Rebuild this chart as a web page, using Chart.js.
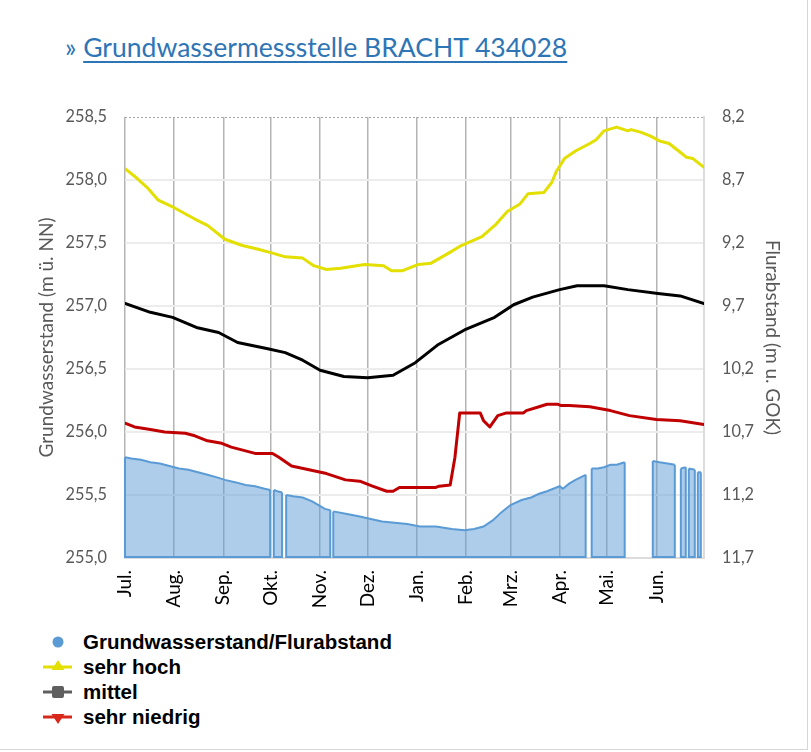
<!DOCTYPE html>
<html>
<head>
<meta charset="utf-8">
<script src="https://cdn.jsdelivr.net/npm/chart.js@4.4.1/dist/chart.umd.min.js"></script>
<style>
html,body{margin:0;padding:0;background:#fff;}
#wrap{position:relative;width:811px;height:752px;overflow:hidden;background:#fff;}
#frame{position:absolute;left:0;top:0;width:807px;height:749px;border-right:1px solid #d6d6d6;border-bottom:1px solid #d6d6d6;}
#title{position:absolute;left:65px;top:32px;font-family:Lato,"Open Sans",sans-serif;color:#2e75b6;white-space:nowrap;line-height:30px;}
#title .lnk{text-decoration:underline;text-decoration-thickness:2px;text-underline-offset:4px;}
#c{position:absolute;left:0;top:0;}
.row{position:absolute;left:83px;font-family:Arial,"Liberation Sans",sans-serif;font-weight:bold;color:#000;white-space:nowrap;line-height:25px;}
.ico{position:absolute;left:40px;}
</style>
</head>
<body>
<div id="wrap">
  <div id="frame"></div>
  <div id="title">» <span class="lnk" id="titleText">Grundwassermessstelle BRACHT 434028</span></div>
  <canvas id="c" width="811" height="625"></canvas>
  <div id="legend"></div>
</div>
<script>
// ---------- data ----------
const monthLabels = ['Jul.','Aug.','Sep.','Okt.','Nov.','Dez.','Jan.','Feb.','Mrz.','Apr.','Mai.','Jun.'];
const monthStartDays = [0,31,62,92,123,153,184,215,243,274,304,335];
const standTicks = [255.0,255.5,256.0,256.5,257.0,257.5,258.0,258.5];
const flurTicks = [8.2,8.7,9.2,9.7,10.2,10.7,11.2,11.7];

const hochDays   = [0,6,14,21,31,44,52,63,74,84,93,101,112,119,127,136,151,163,168,175,185,193,204,212,225,234,241,249,254,264,269,272,277,284,293,297,302,310,317,319,325,331,337,343,350,354,358,365];
const hochValues = [258.09,258.03,257.94,257.84,257.78,257.69,257.64,257.53,257.48,257.45,257.42,257.39,257.38,257.32,257.29,257.30,257.33,257.32,257.28,257.28,257.33,257.34,257.42,257.48,257.55,257.65,257.75,257.81,257.89,257.90,257.98,258.07,258.17,258.23,258.29,258.32,258.39,258.42,258.39,258.40,258.38,258.35,258.31,258.29,258.22,258.18,258.17,258.10];

const mittelDays   = [0,16,30,45,59,71,90,101,112,123,138,153,169,183,197,214,233,245,257,274,285,302,317,336,350,365];
const mittelValues = [257.02,256.95,256.91,256.83,256.79,256.71,256.66,256.63,256.57,256.49,256.44,256.43,256.45,256.55,256.69,256.81,256.91,257.01,257.07,257.13,257.16,257.16,257.13,257.10,257.08,257.02];

const niedrigDays   = [0,6,16,25,38,44,52,61,67,76,82,93,97,105,116,127,139,148,156,165,169,173,186,196,198,205,208,211,224,226,230,235,240,251,253,261,266,273,275,280,293,306,318,335,350,365];
const niedrigValues = [256.07,256.04,256.02,256.00,255.99,255.97,255.93,255.91,255.88,255.85,255.83,255.83,255.80,255.73,255.70,255.67,255.62,255.61,255.57,255.53,255.53,255.56,255.56,255.56,255.57,255.58,255.80,256.15,256.15,256.09,256.04,256.13,256.15,256.15,256.17,256.20,256.22,256.22,256.21,256.21,256.20,256.17,256.13,256.10,256.09,256.06];

// measured groundwater level (null = no data)
const gwDays = [0,4,10,16,22,28,34,40,46,52,58,63,70,76,82,88,91.5, 92.5,
  93.8,96,99, 100.3,
  101.6,106,112,118,122,126,129.4, 130.3,
  131.3,140,148,155,162,170,178,186,196,206,214,220,226,232,237,243,250,256,261,266,270,274,276,280,284,290.4, 292,
  294.2,298,302,306,310,315, 324,
  332.7,337,342,346.6, 348.5,
  350.4,353.5, 354.5,
  355.4,359.2, 360,
  361.1,363];
const gwValues = [255.80,255.79,255.78,255.76,255.75,255.73,255.71,255.70,255.68,255.66,255.64,255.62,255.60,255.58,255.57,255.55,255.54, null,
  255.54,255.53,255.52, null,
  255.50,255.49,255.48,255.45,255.42,255.39,255.38, null,
  255.37,255.35,255.33,255.31,255.29,255.28,255.27,255.25,255.25,255.23,255.22,255.23,255.25,255.30,255.36,255.42,255.46,255.48,255.51,255.53,255.55,255.57,255.55,255.59,255.62,255.66, null,
  255.71,255.71,255.72,255.74,255.74,255.76, null,
  255.77,255.76,255.75,255.74, null,
  255.71,255.72, null,
  255.71,255.70, null,
  255.68,255.68];

// ---------- fonts fitted to measured text widths ----------
const mctx = document.createElement('canvas').getContext('2d');
function fit(text, weight, family, target){ mctx.font = weight + ' 100px ' + family; return 100*target/mctx.measureText(text).width; }
const LATO = 'Lato';
const titleSize = fit('Grundwassermessstelle BRACHT 434028', 'normal', LATO, 485);
const tickSize = Math.min(18, Math.max(14, fit('258,5', 'normal', LATO, 41.5)));
const xTickSize = Math.min(20, Math.max(14, fit('Aug.', 'normal', LATO, 37.5)));
const axTitleSize = Math.min(19, Math.max(14, fit('Grundwasserstand (m ü. NN)', 'normal', LATO, 244)));
const legendSize = Math.min(22, Math.max(15, fit('Grundwasserstand/Flurabstand', 'bold', 'Arial, "Liberation Sans"', 309)));
document.getElementById('title').style.fontSize = titleSize.toFixed(2) + 'px';

// ---------- legend ----------
const legendItems = [
  {text:'Grundwasserstand/Flurabstand', kind:'circle', color:'#5b9bd5'},
  {text:'sehr hoch', kind:'up', color:'#e3df00'},
  {text:'mittel', kind:'square', color:'#5f5f5f'},
  {text:'sehr niedrig', kind:'down', color:'#d8281c'}
];
const legendTops = [629, 654, 679, 704];
const lg = document.getElementById('legend');
legendItems.forEach((it, i) => {
  const row = document.createElement('div');
  row.className = 'row';
  row.style.top = legendTops[i] + 'px';
  row.style.fontSize = legendSize.toFixed(2) + 'px';
  row.textContent = it.text;
  lg.appendChild(row);
  const cy = legendTops[i] + 12.5;
  let svg = '<svg class="ico" width="36" height="20" style="top:' + (cy-10) + 'px" xmlns="http://www.w3.org/2000/svg">';
  if (it.kind === 'circle') {
    svg += '<circle cx="18" cy="10" r="5.5" fill="' + it.color + '"/>';
  } else {
    svg += '<line x1="3" y1="10" x2="32" y2="10" stroke="' + it.color + '" stroke-width="3"/>';
    if (it.kind === 'up') svg += '<polygon points="18,3 24.5,13 11.5,13" fill="' + it.color + '"/>';
    if (it.kind === 'down') svg += '<polygon points="11.5,7 24.5,7 18,17" fill="' + it.color + '"/>';
    if (it.kind === 'square') svg += '<rect x="12" y="4" width="12" height="12" rx="2" fill="' + it.color + '"/>';
  }
  svg += '</svg>';
  lg.insertAdjacentHTML('beforeend', svg);
});

// ---------- chart ----------
const toXY = (d, v) => d.map((x, i) => ({x: x, y: v[i]}));
const fmt = v => Number(v).toFixed(1).replace('.', ',');

const edgePlugin = {
  id: 'areaEdges',
  afterDatasetDraw(chart, args) {
    const ds = chart.data.datasets[args.index];
    if (!ds.drawEdges) return;
    const ctx = chart.ctx;
    const pts = args.meta.data;
    const bottom = chart.scales.y.getPixelForValue(chart.scales.y.min);
    ctx.save();
    ctx.strokeStyle = ds.borderColor;
    ctx.lineWidth = ds.borderWidth;
    ctx.lineJoin = 'miter';
    const seg = (a, b) => {
      ctx.beginPath();
      ctx.moveTo(a.x, a.y); ctx.lineTo(a.x, bottom - 1); ctx.lineTo(b.x, bottom - 1); ctx.lineTo(b.x, b.y);
      ctx.stroke();
    };
    let start = null, prev = null;
    pts.forEach((p, i) => {
      const v = ds.data[i].y;
      if (v === null) { if (start) seg(start, prev); start = null; }
      else { if (!start) start = p; prev = p; }
    });
    if (start) seg(start, prev);
    ctx.restore();
  }
};

const topLinePlugin = {
  id: 'topLine',
  afterDraw(chart) {
    const {ctx, chartArea} = chart;
    ctx.save();
    ctx.strokeStyle = '#a6a6a6';
    ctx.lineWidth = 1;
    ctx.setLineDash([2, 2]);
    ctx.beginPath();
    ctx.moveTo(chartArea.left, chartArea.top + 0.5);
    ctx.lineTo(chartArea.right, chartArea.top + 0.5);
    ctx.stroke();
    ctx.restore();
  }
};

const lineDs = (label, d, v, color, order) => ({
  label: label, data: toXY(d, v), borderColor: color, borderWidth: 3,
  pointRadius: 0, tension: 0, fill: false, order: order, yAxisID: 'y', borderJoinStyle: 'round', borderCapStyle: 'round'
});

new Chart(document.getElementById('c'), {
  type: 'line',
  data: {
    datasets: [
      lineDs('sehr hoch', hochDays, hochValues, '#e3df00', 1),
      lineDs('mittel', mittelDays, mittelValues, '#000000', 2),
      lineDs('sehr niedrig', niedrigDays, niedrigValues, '#c00000', 3),
      {
        label: 'Grundwasserstand/Flurabstand', data: toXY(gwDays, gwValues),
        borderColor: '#5b9bd5', borderWidth: 2, backgroundColor: 'rgba(91,155,213,0.5)',
        fill: 'start', spanGaps: false, pointRadius: 0, tension: 0, order: 10, yAxisID: 'y', drawEdges: true
      }
    ]
  },
  options: {
    responsive: false, animation: false, devicePixelRatio: 1,
    layout: {padding: {top: 117, left: 31, right: 23, bottom: 0}},
    plugins: {legend: {display: false}, tooltip: {enabled: false}},
    scales: {
      x: {
        type: 'linear', min: 0, max: 365,
        afterBuildTicks: s => { s.ticks = monthStartDays.map(v => ({value: v})); },
        afterFit: s => { s.height = 67; },
        ticks: {autoSkip: false, minRotation: 90, maxRotation: 90, padding: 12, color: '#000',
          font: {family: LATO, size: xTickSize}, callback: (v, i) => monthLabels[i]},
        grid: {color: '#b4b4b4', lineWidth: 1.5, drawTicks: false},
        border: {display: true, color: '#dcdcdc', width: 2}
      },
      y: {
        position: 'left', min: 255, max: 258.5,
        afterBuildTicks: s => { s.ticks = standTicks.map(v => ({value: v})); },
        afterFit: s => { s.width = 94; },
        ticks: {padding: 18, color: '#595959', font: {family: LATO, size: tickSize}, callback: v => fmt(v)},
        grid: {color: c => (c.tick && c.tick.value === 258.5) ? 'rgba(0,0,0,0)' : '#ececec', lineWidth: 2, drawTicks: false},
        border: {display: false},
        title: {display: true, text: 'Grundwasserstand (m ü. NN)', color: '#595959',
          font: {family: LATO, size: axTitleSize}, padding: {top: 4, bottom: 4}}
      },
      y2: {
        position: 'right', reverse: true, min: 8.2, max: 11.7,
        afterBuildTicks: s => { s.ticks = flurTicks.map(v => ({value: v})); },
        afterFit: s => { s.width = 84; },
        ticks: {padding: 18, color: '#595959', font: {family: LATO, size: tickSize}, callback: v => fmt(v)},
        grid: {drawOnChartArea: false, drawTicks: false},
        border: {display: true, color: '#dcdcdc', width: 2},
        title: {display: true, text: 'Flurabstand (m u. GOK)', color: '#595959',
          font: {family: LATO, size: axTitleSize}, padding: {top: 4, bottom: 4}}
      }
    }
  },
  plugins: [edgePlugin, topLinePlugin]
});
</script>
</body>
</html>
